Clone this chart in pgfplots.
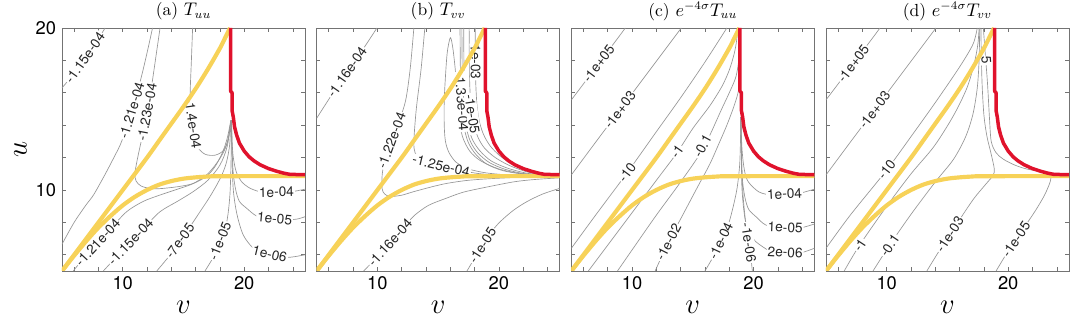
\documentclass[border=0pt]{standalone}
\usepackage{fontspec}
\usepackage{pgfplots}
\pgfplotsset{compat=1.18}
\usepgfplotslibrary{groupplots}
\newfontfamily\hv{TeX Gyre Heros}
\definecolor{hyel}{RGB}{247,210,88}
\definecolor{hred}{RGB}{224,18,44}
\definecolor{cgray}{RGB}{150,150,150}
\pgfplotsset{cont/.style={cgray, line width=0.4pt, smooth},
  hz/.style={hyel, line width=2.5pt, smooth},
  rd/.style={hred, line width=2.1pt, line join=round}}
% contour label: centred between two points of the line, turned along it
\newcommand{\lab}[5]{\addplot[draw=none] coordinates {(#1,#2)(#3,#4)}
  node[pos=0.5, sloped, fill=white, inner sep=0.6pt, text=black!85,
  font=\hv\fontsize{8.2}{9}\selectfont]{#5};}
% horizon curves (same in every panel)
\newcommand{\horizons}{%
\addplot[hz] coordinates {(5,5)(8,8)(10,10)(12,12)(13,13.05)(14,14.1)(15,15.15)(16,16.25)(17,17.45)(18,18.75)(18.4,19.35)(18.83,20)};
\addplot[hz] coordinates {(5,5)(5.5,5.48)(6,5.95)(7,6.85)(8,7.68)(9,8.4)(10,9.05)(11,9.58)(12,10.0)(13,10.33)(14,10.55)(15,10.7)(16,10.78)(17,10.83)(18,10.85)(25,10.86)};
\addplot[rd] coordinates {(18.88,20)(18.88,16.1)(19.0,16.0)(19.0,14.9)(19.1,14.5)(19.2,13.9)(19.37,13.4)(19.6,12.9)(20.0,12.4)(20.4,12.05)(20.8,11.8)(21.3,11.56)(22.0,11.32)(22.7,11.15)(23.3,11.03)(23.8,10.96)(25,10.95)};
}
\begin{document}
\begin{tikzpicture}
\begin{groupplot}[group style={group size=4 by 1, horizontal sep=7pt},
  width=145.8pt, height=145.8pt, scale only axis,
  xmin=5, xmax=25, ymin=5, ymax=20,
  xtick={6,8,...,24}, xticklabels={,,10,,,,,20,,},
  ytick={6,8,...,20}, yticklabels={,,10,,,,,20},
  tick align=inside, major tick length=2.2pt,
  axis line style={black!55, line width=0.4pt},
  every tick/.style={black!55, line width=0.4pt},
  tick label style={font=\hv\fontsize{11}{12}\selectfont},
  xlabel={$v$},
  xlabel style={at={(axis description cs:0.5,0)}, anchor=center, yshift=-22pt, font=\fontsize{17}{19}\selectfont},
  ylabel style={at={(axis description cs:-0.171,0.5)}, anchor=center, font=\fontsize{17}{19}\selectfont},
  title style={at={(axis description cs:0.5,1)}, anchor=center, yshift=4pt, font=\fontsize{10.5}{12}\selectfont}]
% ---------------- (a)
\nextgroupplot[title={(a) $T_{uu}$}, ylabel={$u$}]
\addplot[cont] coordinates {(5,16.3)(6,17.2)(7,18.2)(8,19.35)(8.55,20)};
\addplot[cont] coordinates {(5,6.65)(6,8.0)(7,9.1)(7.6,9.7)(8.5,10.9)(9.2,11.9)(9.8,12.8)(10.3,13.8)(10.75,14.73)(11.2,16)(11.7,17.5)(12.1,18.8)(12.45,20)};
\addplot[cont] coordinates {(13.07,20)(12.8,18.6)(12.55,17.3)(12.3,16)(12.05,14.7)(11.7,13.6)(11.4,12.6)(11.15,11.7)(11.0,11.0)(11.1,10.55)(11.5,10.25)(12.2,10.1)(13,10.08)(14.5,10.2)(15.8,10.4)(16.9,10.85)(17.6,11.45)(18.2,12.3)(18.6,13.2)(18.9,14.3)};
\addplot[cont] coordinates {(15.75,20)(15.65,18)(15.55,16)(15.6,15)(15.75,14)(15.95,13.2)(16.2,12.6)(16.8,12.2)(17.6,12.15)(18.3,12.45)(18.7,13.2)(18.9,14.3)};
\addplot[cont] coordinates {(5.93,5)(6.9,5.9)(7.85,6.6)(9,7.6)(10.32,8.66)(11.7,9.3)(13.07,9.69)(14.5,10.05)(15.8,10.4)(17,11.0)(18.0,11.95)(18.6,12.9)(18.9,14.3)};
\addplot[cont] coordinates {(8.4,5)(9.5,5.9)(10.6,6.81)(11.8,7.7)(13.07,8.66)(14.5,9.3)(15.8,9.9)(17,10.6)(18.0,11.54)(18.6,12.7)(18.9,14.3)};
\addplot[cont] coordinates {(12.8,5)(13.8,5.9)(14.7,6.81)(15.6,7.8)(16.36,8.66)(17.1,9.5)(17.73,10.3)(18.2,11)(18.55,11.75)(18.8,12.8)(18.9,14.3)};
\addplot[cont] coordinates {(16.77,5)(17.5,5.9)(18.14,6.81)(18.5,7.8)(18.69,8.66)(18.82,9.7)(18.88,10.72)(18.92,12)(18.95,14.3)};
\addplot[cont] coordinates {(18.95,14.3)(19.0,13)(19.1,12)(19.35,11.1)(19.8,10.5)(20.5,10.1)(21.5,9.85)(22.5,9.8)(23.8,9.88)(25,10.05)};
\addplot[cont] coordinates {(18.95,14.3)(19.0,12.5)(19.1,11)(19.3,10)(19.6,9.3)(20.2,8.87)(21,8.4)(22,8.2)(23.2,8.15)(24.3,8.2)(25,8.35)};
\addplot[cont] coordinates {(18.95,14.3)(19.0,12)(19.1,10)(19.4,8.5)(19.92,7.22)(20.74,6.4)(21.6,6.0)(22.6,5.85)(23.8,5.85)(25,6.0)};
\lab{6.2}{17.4}{7.6}{18.9}{-1.15e-04}
\lab{10.3}{13.8}{11.2}{16}{-1.21e-04}
\lab{12.3}{16}{11.7}{13.6}{-1.23e-04}
\lab{15.6}{15}{15.95}{13.2}{-1.4e-04}
\lab{6.9}{5.9}{9}{7.6}{-1.21e-04}
\lab{9.5}{5.9}{11.8}{7.7}{-1.15e-04}
\lab{13.8}{5.9}{15.6}{7.8}{-7e-05}
\lab{17.5}{5.9}{18.5}{7.8}{-1e-05}
\lab{21.5}{9.85}{23.8}{9.88}{1e-04}
\lab{21.4}{8.3}{23.6}{8.15}{1e-05}
\lab{21}{6.25}{23.2}{5.85}{1e-06}
\horizons
% ---------------- (b)
\nextgroupplot[title={(b) $T_{vv}$}, yticklabels={}]
\addplot[cont] coordinates {(5,14.43)(6,15.6)(7,16.75)(8,17.8)(9,18.9)(9.96,20)};
\addplot[cont] coordinates {(13.0,20)(12.7,17.5)(12.3,15.45)(11.6,13.9)(11.15,13.0)(10.65,11.96)(10.4,11.0)(10.38,10.1)(10.6,9.75)(11.06,9.6)(12,9.68)(13,9.9)(14.5,10.2)(15.73,10.41)(17.5,10.6)(19.8,10.72)(22.3,10.8)(25,10.84)};
\addplot[cont] coordinates {(13.9,20)(13.6,17.5)(13.2,15)(13.0,13)(13.1,12.3)(13.5,11.9)(14.0,11.7)(15.12,11.48)(16.5,11.25)(18.5,11.0)(21,10.88)(25,10.86)};
\addplot[cont] coordinates {(25,10.9)(22,11.0)(20,11.3)(18.5,11.8)(17.6,12.4)(17,13.3)(16.7,14.5)(16.55,16)(16.4,17.5)(16.2,18.8)(16.0,19.4)(15.75,18.5)(15.6,17)(15.5,15.5)(15.5,14)(15.6,13)(15.9,12.3)(16.5,11.7)(17.5,11.3)(19,11.05)(21,10.92)(23,10.88)(25,10.88)};
\addplot[cont] coordinates {(16.8,20)(16.82,18)(16.85,16.5)(16.95,15)(17.15,13.8)(17.5,12.9)(18.1,12.2)(19,11.6)(20.3,11.2)(22,10.98)(23.5,10.9)(25,10.88)};
\addplot[cont] coordinates {(16.95,20)(16.97,18)(17.0,16.5)(17.1,15)(17.3,13.9)(17.65,13)(18.25,12.3)(19.2,11.7)(20.5,11.28)(22,11.02)(23.5,10.92)(25,10.9)};
\addplot[cont] coordinates {(17.1,20)(17.12,18)(17.17,16.5)(17.27,15)(17.47,14)(17.8,13.15)(18.4,12.45)(19.35,11.8)(20.7,11.35)(22.2,11.05)(23.5,10.93)(25,10.9)};
\addplot[cont] coordinates {(17.55,20)(17.57,18)(17.6,16.5)(17.7,15.2)(17.9,14.2)(18.25,13.3)(18.8,12.6)(19.7,12.0)(20.9,11.5)(22.3,11.12)(23.5,10.95)(25,10.9)};
\addplot[cont] coordinates {(18.05,20)(18.07,18)(18.1,16.5)(18.2,15.2)(18.4,14.2)(18.75,13.4)(19.3,12.7)(20.1,12.1)(21.1,11.6)(22.4,11.2)(23.5,11.0)(25,10.92)};
\addplot[cont] coordinates {(8.87,5)(9.9,5.8)(11.2,6.8)(12.2,7.7)(13.0,8.4)(14.2,9.05)(15.7,9.5)(17,9.85)(18.47,10.1)(21.2,10.5)(23,10.65)(25,10.75)};
\addplot[cont] coordinates {(17.37,5)(18.0,5.8)(18.6,6.6)(19.3,7.35)(20.1,8.04)(21.2,8.75)(22.3,9.28)(23.6,9.75)(25,10.1)};
\lab{6.5}{16.2}{8.5}{18.35}{-1.16e-04}
\lab{11.6}{13.9}{10.75}{12.2}{-1.22e-04}
\lab{14.0}{11.7}{16.5}{11.25}{-1.25e-04}
\lab{16.85}{16.5}{17.05}{14.4}{-1.33e-04}
\lab{17.7}{15.2}{17.9}{14.2}{-1e-05}
\lab{18.07}{18.8}{18.09}{17.0}{1e-03}
\lab{9.9}{5.8}{12.2}{7.7}{-1.16e-04}
\lab{18.0}{5.8}{19.3}{7.35}{-1e-05}
\horizons
% ---------------- (c)
\nextgroupplot[title={(c) $e^{-4\sigma}T_{uu}$}, yticklabels={}]
\addplot[cont] coordinates {(5,15.56)(6,16.55)(7,17.55)(8,18.55)(9,19.55)(9.44,20)};
\addplot[cont] coordinates {(5,10.93)(7,12.95)(9,14.95)(11,16.95)(13,18.95)(14.05,20)};
\addplot[cont] coordinates {(5,6.4)(7,8.45)(9.58,11.05)(12,13.6)(14,15.7)(16,17.9)(17.8,20)};
\addplot[cont] coordinates {(6.4,5)(8,6.6)(10,8.6)(12,10.6)(13.7,12.3)(15,13.8)(16.4,15.2)(17.4,16.4)(18.0,17.4)(18.4,18.4)(18.6,19.2)(18.7,20)};
\addplot[cont] coordinates {(8.8,5)(10,6.3)(12,8.45)(14,10.5)(15.86,12.57)(17.4,15.04)(18.0,16.0)(18.55,17.0)(18.8,18.2)(18.88,20)};
\addplot[cont] coordinates {(11.9,5)(13,6.8)(14.2,8.5)(15.4,10.2)(16.4,11.6)(17.1,12.78)(17.8,14)(18.4,15.2)(18.75,16.1)(18.88,17)};
\addplot[cont] coordinates {(16,5)(16.7,5.9)(17.37,6.8)(17.9,7.8)(18.3,8.9)(18.64,10.1)(18.85,11.5)(18.92,13)(18.95,14.5)};
\addplot[cont] coordinates {(19.9,5)(19.75,6)(19.55,7)(19.35,8)(19.15,9.5)(19.05,11)(19.0,12.5)(18.95,14.5)};
\addplot[cont] coordinates {(18.95,14.5)(19.05,12.5)(19.25,11.2)(19.57,10.5)(20.4,9.9)(21.3,9.7)(22.5,9.65)(23.8,9.8)(25,10.05)};
\addplot[cont] coordinates {(18.95,14.5)(19.0,12)(19.1,10.5)(19.3,9.5)(19.6,8.8)(20.2,8.35)(21,7.84)(22.3,7.6)(23.8,7.65)(25,7.9)};
\addplot[cont] coordinates {(18.95,14.5)(19.0,12)(19.05,10)(19.3,8.2)(19.7,7.3)(20.2,6.8)(21.4,6.2)(22.5,6.0)(23.8,6.1)(25,6.4)};
\lab{6.5}{17.05}{8}{18.55}{-1e+05}
\lab{8}{13.95}{10}{15.95}{-1e+03}
\lab{8.6}{10.05}{10.6}{12.1}{-10}
\lab{12.8}{11.4}{14.6}{13.35}{-1}
\lab{15.0}{11.6}{16.6}{13.8}{-0.1}
\lab{12.4}{5.9}{13.6}{7.65}{-1e-02}
\lab{16.7}{5.9}{17.9}{7.8}{-1e-04}
\lab{19.45}{7.5}{19.75}{6}{-1e-06}
\lab{21.3}{9.7}{23.8}{9.8}{1e-04}
\lab{21.4}{7.72}{23.8}{7.65}{1e-05}
\lab{21.4}{6.2}{23.8}{6.1}{2e-06}
\horizons
% ---------------- (d)
\nextgroupplot[title={(d) $e^{-4\sigma}T_{vv}$}, yticklabels={}]
\addplot[cont] coordinates {(5,15.56)(6,16.55)(7,17.55)(8,18.55)(9,19.55)(9.44,20)};
\addplot[cont] coordinates {(5,10.93)(7,12.95)(9,14.95)(11,16.95)(13,18.95)(14.05,20)};
\addplot[cont] coordinates {(5,6.4)(7,8.45)(9.96,11.2)(12,13.3)(14,15.4)(16,17.6)(17.1,19.0)(17.45,20)};
\addplot[cont] coordinates {(6.5,5)(7.77,6.6)(10,9.0)(12,11.0)(13.9,12.7)(15.5,14.6)(16.6,16.3)(17.2,17.8)(17.5,19)(17.6,20)};
\addplot[cont] coordinates {(8.87,5)(10.24,6.6)(12,8.5)(14,10.5)(15.5,11.9)(16.5,13.3)(17.1,14.7)(17.45,16.3)(17.6,18)(17.65,20)};
\addplot[cont] coordinates {(13.3,5)(14.2,6.1)(15.18,7.22)(16.2,8.4)(17.2,9.5)(18.2,10.4)(18.75,10.9)(18.85,11.3)(18.6,12.2)(18.25,13.3)(18.0,14.6)(17.85,16.5)(17.78,18.5)(17.75,20)};
\addplot[cont] coordinates {(19,5)(19.8,6)(20.66,7.02)(21.5,7.9)(22.3,8.8)(23.0,9.7)(23.45,10.5)(23.55,10.95)};
\addplot[cont] coordinates {(17.95,20)(18.1,18.5)(18.3,16.5)(18.45,14.5)(18.6,13.0)(19.0,12.3)(19.6,11.9)(20.5,11.55)(21.5,11.3)(22.6,11.15)(23.55,11.0)};
\lab{6.5}{17.05}{8}{18.55}{-1e+05}
\lab{8}{13.95}{10}{15.95}{-1e+03}
\lab{9}{10.3}{11}{12.25}{-10}
\lab{7.1}{5.8}{8.5}{7.4}{-1}
\lab{9.6}{5.85}{10.9}{7.3}{-0.1}
\lab{14.3}{6.2}{16.1}{8.3}{-1e-03}
\lab{19.9}{6.1}{21.4}{7.8}{-1e-05}
\lab{18.12}{18.7}{18.25}{17.3}{5}
\horizons
\end{groupplot}
\pgfresetboundingbox
\path ([shift={(-37.2pt,-34.8pt)}]group c1r1.south west) rectangle ++(648pt,197.4pt);
\end{tikzpicture}
\end{document}
